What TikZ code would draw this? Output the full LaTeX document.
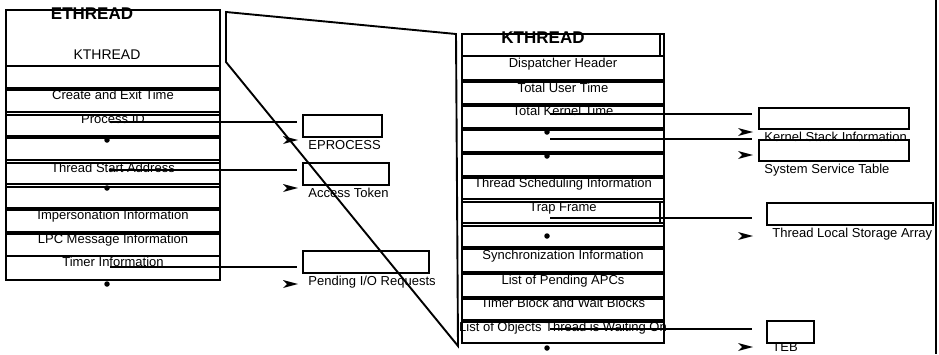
\documentclass[tikz,border=0pt]{standalone}
\usepackage{fontspec}
\setmainfont{Liberation Sans}
\usetikzlibrary{positioning}

\begin{document}
\begin{tikzpicture}[
  x=1pt, y=-1pt,
  font=\fontsize{13}{15}\selectfont,
  line width=1.9pt, line join=miter,
  txt/.style={anchor=base, inner sep=0pt},
  head/.style={txt, font=\fontsize{17}{19}\selectfont\bfseries},
  tagbox/.style={draw, anchor=north west, inner sep=0pt},
  tagtxt/.style={anchor=base west, inner sep=0pt, xshift=5.5pt, yshift=-11.5pt},
  dotmark/.style={circle, fill, inner sep=0pt, minimum size=5.5pt},
  headmark/.pic={\fill (-15,-4) -- (0,0) -- (-15,4) -- (-11,0) -- cycle;}
]
\useasboundingbox (0,0) rectangle (939,354);

% ETHREAD block
\draw (6,10) rectangle (220,280);
\node[head] (ethr) at (92,19) {ETHREAD};
\node[txt, font=\fontsize{14}{16}\selectfont] (ekthr) at (107,59) {KTHREAD};
\foreach \t/\b/\base/\txt [count=\i] in {
  66/88/77/{}, 90/112/99.5/Create and Exit Time, 115/136/123.5/Process ID,
  138/160/149/{}, 163/184/172/Thread Start Address, 187/208/197/{},
  210/232/219.5/Impersonation Information, 234/256/243/LPC Message Information,
  256/280/266.5/Timer Information} {
  \draw (6,\t) rectangle (220,\b);
  \node[txt] (erow\i) at (113,\base) {\txt};
}
\node[dotmark] (edot1) at (107,140) {};
\node[dotmark] (edot2) at (107,188) {};
\node[dotmark] (edot3) at (107,284) {};

% zoom outline
\draw (226,12) -- (456,34) -- (458,346) -- (226,62) -- cycle;

% KTHREAD block
\draw (462,34) rectangle (664,343);
\draw (462,34) rectangle (660,56);
\node[head] (kthr) at (543,43) {KTHREAD};
\foreach \t/\b/\base/\txt [count=\i] in {
  56/80/67/Dispatcher Header, 82/104/92/Total User Time, 106/128/115.5/Total Kernel Time,
  130/152/141/{}, 154/176/165/{}, 178/199/187.5/Thread Scheduling Information,
  202/223/211.5/Trap Frame, 226/247/236/{}, 249/272/259.5/Synchronization Information,
  274/297/284.5/List of Pending APCs, 299/320/307.5/Timer Block and Wait Blocks,
  322/343/331.5/List of Objects Thread is Waiting On} {
  \draw (462,\t) rectangle (664,\b);
  \node[txt] (krow\i) at (563,\base) {\txt};
}
\draw (462,202) rectangle (660,223);
\node[dotmark] (kdot1) at (547,132) {};
\node[dotmark] (kdot2) at (547,156) {};
\node[dotmark] (kdot3) at (547,236) {};
\node[dotmark] (kdot4) at (547,348) {};

% pointed-to objects
\node[tagbox, minimum width=79pt, minimum height=22pt] (eproc) at (302,114) {};
\node[tagbox, minimum width=86pt, minimum height=22pt] (token) at (302,162) {};
\node[tagbox, minimum width=126pt, minimum height=22pt] (pendio) at (302,250) {};
\node[tagbox, minimum width=150pt, minimum height=21pt] (kstack) at (758,107) {};
\node[tagbox, minimum width=150pt, minimum height=21pt] (svctab) at (758,139) {};
\node[tagbox, minimum width=166pt, minimum height=22pt] (tls) at (766,202) {};
\node[tagbox, minimum width=47pt, minimum height=22pt] (teb) at (766,320) {};

\node[tagtxt] (eproclbl) at (eproc.south west) {EPROCESS};
\node[tagtxt] (tokenlbl) at (token.south west) {Access Token};
\node[tagtxt] (pendiolbl) at (pendio.south west) {Pending I/O Requests};
\node[tagtxt] (kstacklbl) at (kstack.south west) {Kernel Stack Information};
\node[tagtxt] (svctablbl) at (svctab.south west) {System Service Table};
\node[tagtxt] (tlslbl) at (tls.south west) {Thread Local Storage Array};
\node[tagtxt, yshift=4pt] (teblbl) at (teb.south west) {TEB};

% pointer lines
\coordinate (pidsrc) at (110,122);
\coordinate (startsrc) at (110,170);
\coordinate (timersrc) at (110,267);
\coordinate (kernsrc) at (550,114);
\coordinate (svcsrc) at (550,139);
\coordinate (trapsrc) at (550,218);
\coordinate (waitsrc) at (550,329);
\draw[shorten >=5pt] (pidsrc) -- (pidsrc -| eproc.west);
\draw[shorten >=5pt] (startsrc) -- (startsrc -| token.west);
\draw[shorten >=5pt] (timersrc) -- (timersrc -| pendio.west);
\draw[shorten >=6pt] (kernsrc) -- (kernsrc -| kstack.west);
\draw[shorten >=6pt] (svcsrc) -- (svcsrc -| svctab.west);
\draw[shorten >=14pt] (trapsrc) -- (trapsrc -| tls.west);
\draw[shorten >=14pt] (waitsrc) -- (waitsrc -| teb.west);

% loose arrow heads
\pic at (298,140) {headmark};
\pic at (298,188) {headmark};
\pic at (298,284) {headmark};
\pic at (753,132) {headmark};
\pic at (753,155) {headmark};
\pic at (753,236) {headmark};
\pic at (753,347) {headmark};

\draw[line width=2.4pt] (936,0) -- (936,354);
\end{tikzpicture}
\end{document}
